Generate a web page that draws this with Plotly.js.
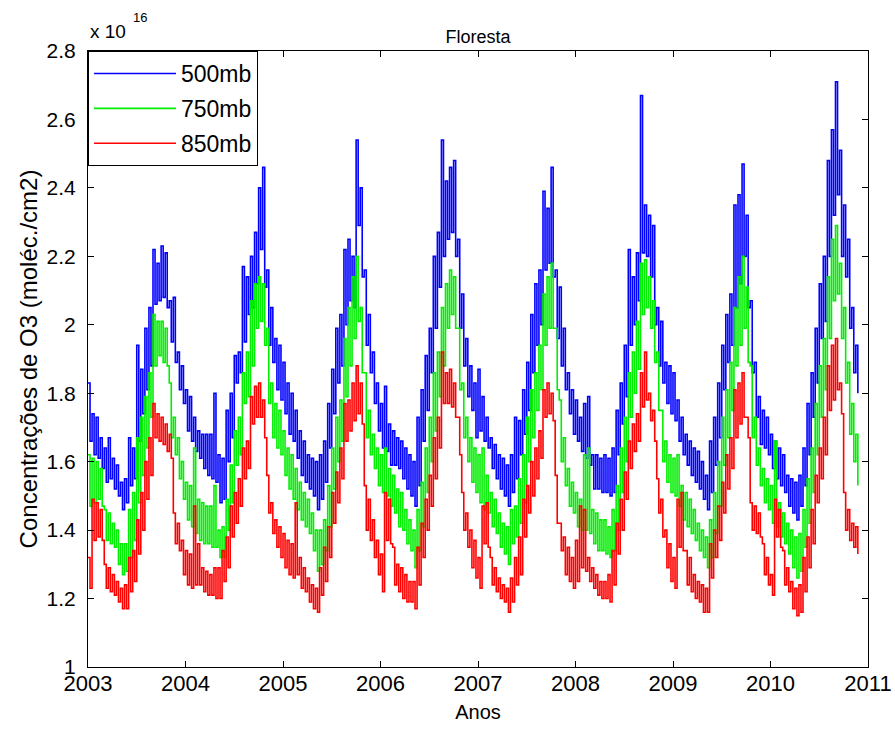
<!DOCTYPE html>
<html>
<head>
<meta charset="utf-8">
<script src="https://cdn.plot.ly/plotly-3.0.1.min.js"></script>
<style>html,body{margin:0;padding:0;background:#fff;}#chart{width:895px;height:731px;}</style>
</head>
<body>
<div id="chart"></div>
<script>
// Values in units of 10^16 molec/cm2, sampled every 1/24 year from 2003.0
// Each series given as upper (hi) and lower (lo) edge of its noisy band, read from the picture.
const startYear = 2003;
const samplesPerYear = 24;

const blueHi = [1.83,1.74,1.73,1.67,1.64,1.67,1.61,1.59,1.54,1.55,1.67,1.64,1.94,1.87,1.99,2.05,2.22,2.18,2.23,2.21,2.07,2.08,1.92,1.88,1.81,1.79,1.73,1.69,1.68,1.68,1.68,1.80,
1.62,1.61,1.75,1.80,1.91,1.92,2.17,2.14,2.20,2.27,2.40,2.46,2.16,2.05,1.96,1.94,1.89,1.83,1.80,1.75,1.69,1.66,1.62,1.61,1.60,1.62,1.66,1.77,1.87,1.99,2.03,2.22,
2.25,2.20,2.54,2.40,2.16,2.03,1.92,1.83,1.77,1.82,1.71,1.69,1.67,1.66,1.64,1.62,1.60,1.73,1.81,1.91,1.99,2.20,2.27,2.54,2.42,2.46,2.48,2.25,2.09,1.96,1.88,1.83,
1.87,1.79,1.73,1.67,1.65,1.62,1.61,1.59,1.62,1.73,1.72,1.81,1.89,2.03,2.12,2.16,2.39,2.34,2.46,2.16,2.11,1.99,1.86,1.81,1.78,1.73,1.77,1.79,1.62,1.62,1.61,1.62,
1.61,1.64,1.75,1.83,1.94,2.22,2.14,2.21,2.67,2.35,2.32,2.29,2.05,2.01,1.89,1.88,1.86,1.78,1.73,1.68,1.66,1.64,1.63,1.60,1.56,1.66,1.73,1.83,1.94,2.03,2.09,2.35,
2.38,2.47,2.32,2.07,1.89,1.79,1.75,1.73,1.68,1.66,1.64,1.62,1.56,1.55,1.54,1.56,1.64,1.77,1.86,1.99,2.12,2.20,2.48,2.57,2.71,2.51,2.35,2.25,2.05,1.94];
const blueLo = [1.66,1.62,1.61,1.58,1.54,1.55,1.52,1.50,1.46,1.48,1.53,1.55,1.66,1.74,1.81,1.88,2.06,2.07,2.08,2.05,1.95,1.89,1.81,1.77,1.69,1.66,1.63,1.61,1.58,1.56,1.55,1.54,
1.48,1.49,1.60,1.67,1.83,1.86,1.95,2.03,2.05,2.12,2.22,2.11,1.94,1.89,1.81,1.78,1.74,1.68,1.66,1.61,1.56,1.54,1.52,1.50,1.46,1.49,1.54,1.64,1.74,1.83,1.88,2.00,
2.07,2.05,2.29,2.14,1.94,1.86,1.77,1.69,1.64,1.63,1.59,1.59,1.58,1.55,1.52,1.50,1.47,1.53,1.66,1.75,1.86,1.99,2.11,2.20,2.25,2.27,2.20,1.99,1.88,1.79,1.75,1.67,
1.69,1.66,1.64,1.58,1.55,1.52,1.50,1.47,1.51,1.55,1.62,1.68,1.75,1.86,1.94,2.00,2.16,2.18,2.14,1.96,1.88,1.81,1.74,1.68,1.66,1.63,1.61,1.59,1.52,1.52,1.51,1.51,
1.50,1.51,1.62,1.71,1.79,1.94,2.00,2.07,2.21,2.20,2.14,2.00,1.88,1.83,1.77,1.74,1.72,1.66,1.62,1.59,1.56,1.54,1.52,1.49,1.46,1.51,1.59,1.67,1.81,1.89,1.94,2.05,
2.12,2.20,2.05,1.86,1.73,1.65,1.64,1.62,1.58,1.55,1.53,1.51,1.47,1.45,1.43,1.47,1.53,1.62,1.73,1.83,1.96,2.01,2.20,2.32,2.38,2.20,2.14,1.99,1.86,1.80];

const greenHi = [1.62,1.61,1.60,1.58,1.46,1.45,1.42,1.40,1.36,1.36,1.46,1.51,1.67,1.73,1.79,1.86,2.03,2.01,2.01,1.99,1.83,1.73,1.67,1.60,1.54,1.53,1.64,1.49,1.48,1.47,1.47,1.53,
1.40,1.41,1.49,1.59,1.69,1.73,1.86,1.92,2.07,2.12,2.14,2.12,1.99,1.83,1.77,1.75,1.69,1.64,1.62,1.58,1.54,1.51,1.49,1.45,1.40,1.40,1.43,1.53,1.64,1.73,1.78,1.96,
2.05,2.14,2.20,2.05,1.86,1.75,1.68,1.64,1.62,1.64,1.58,1.56,1.52,1.51,1.46,1.43,1.40,1.46,1.54,1.64,1.73,1.86,1.92,2.05,2.12,2.16,2.14,1.99,1.83,1.73,1.67,1.64,
1.62,1.64,1.56,1.51,1.49,1.45,1.42,1.41,1.46,1.47,1.55,1.62,1.73,1.81,1.86,1.94,2.09,2.14,2.18,1.99,1.78,1.67,1.58,1.54,1.51,1.49,1.62,1.64,1.46,1.45,1.43,1.43,
1.41,1.46,1.53,1.64,1.73,1.86,1.92,2.01,2.18,2.19,2.14,2.07,1.92,1.75,1.66,1.62,1.61,1.62,1.53,1.51,1.49,1.46,1.42,1.40,1.38,1.43,1.51,1.60,1.73,1.81,1.89,2.05,
2.14,2.20,2.11,1.88,1.73,1.64,1.58,1.55,1.53,1.66,1.48,1.45,1.42,1.40,1.38,1.39,1.46,1.55,1.64,1.77,1.88,1.96,2.14,2.25,2.29,2.18,2.05,1.89,1.77,1.68];
const greenLo = [1.47,1.48,1.49,1.47,1.37,1.36,1.35,1.30,1.27,1.28,1.32,1.37,1.48,1.56,1.64,1.73,1.88,1.91,1.89,1.88,1.67,1.62,1.55,1.49,1.43,1.41,1.39,1.37,1.36,1.36,1.35,1.35,
1.32,1.32,1.40,1.48,1.59,1.62,1.77,1.79,1.88,1.99,2.01,1.94,1.77,1.67,1.64,1.62,1.56,1.52,1.49,1.46,1.43,1.41,1.39,1.34,1.28,1.30,1.34,1.41,1.52,1.60,1.66,1.79,
1.88,1.96,2.01,1.86,1.67,1.62,1.58,1.53,1.51,1.50,1.47,1.45,1.41,1.40,1.36,1.34,1.29,1.34,1.41,1.51,1.60,1.69,1.79,1.88,1.99,2.03,1.99,1.81,1.67,1.60,1.54,1.51,
1.48,1.46,1.45,1.41,1.39,1.35,1.33,1.30,1.36,1.38,1.42,1.48,1.60,1.67,1.75,1.81,1.94,1.99,1.99,1.81,1.60,1.53,1.47,1.45,1.41,1.40,1.40,1.39,1.36,1.34,1.34,1.33,
1.32,1.34,1.40,1.51,1.60,1.73,1.80,1.87,2.03,2.05,1.99,1.89,1.75,1.60,1.54,1.51,1.50,1.47,1.43,1.41,1.39,1.37,1.34,1.32,1.29,1.32,1.39,1.47,1.59,1.67,1.75,1.88,
1.94,1.99,1.89,1.67,1.59,1.53,1.48,1.46,1.42,1.41,1.38,1.36,1.33,1.29,1.26,1.28,1.35,1.42,1.51,1.62,1.73,1.81,1.96,2.07,2.09,1.96,1.83,1.68,1.60,1.53];

const redHi = [1.32,1.49,1.48,1.46,1.30,1.29,1.27,1.25,1.23,1.24,1.32,1.34,1.43,1.51,1.60,1.67,1.77,1.74,1.73,1.71,1.68,1.45,1.42,1.37,1.34,1.33,1.47,1.36,1.29,1.28,1.27,1.29,
1.29,1.34,1.38,1.47,1.51,1.55,1.64,1.66,1.79,1.82,1.83,1.78,1.56,1.48,1.43,1.41,1.39,1.37,1.36,1.48,1.32,1.29,1.26,1.24,1.23,1.29,1.35,1.41,1.51,1.57,1.64,1.77,
1.78,1.83,1.88,1.83,1.53,1.49,1.43,1.37,1.33,1.51,1.49,1.35,1.30,1.29,1.27,1.25,1.25,1.35,1.42,1.49,1.56,1.67,1.73,1.92,1.86,1.87,1.83,1.73,1.51,1.45,1.40,1.37,
1.32,1.47,1.48,1.32,1.29,1.26,1.24,1.23,1.26,1.32,1.38,1.49,1.53,1.60,1.64,1.69,1.81,1.83,1.80,1.56,1.42,1.38,1.35,1.32,1.37,1.47,1.46,1.32,1.29,1.27,1.25,1.25,
1.27,1.34,1.42,1.49,1.57,1.66,1.71,1.74,1.86,1.92,1.80,1.75,1.55,1.49,1.40,1.36,1.32,1.49,1.51,1.34,1.32,1.27,1.25,1.24,1.23,1.36,1.40,1.47,1.54,1.62,1.67,1.81,
1.83,1.86,1.73,1.48,1.47,1.45,1.36,1.32,1.27,1.49,1.46,1.34,1.29,1.25,1.23,1.24,1.32,1.38,1.46,1.56,1.64,1.73,1.88,1.94,1.96,1.83,1.51,1.46,1.42,1.41];
const redLo = [1.23,1.37,1.38,1.37,1.23,1.22,1.21,1.19,1.17,1.17,1.22,1.25,1.33,1.40,1.49,1.56,1.67,1.66,1.65,1.63,1.61,1.36,1.34,1.27,1.24,1.23,1.24,1.24,1.22,1.21,1.21,1.20,
1.20,1.25,1.29,1.38,1.42,1.47,1.55,1.58,1.71,1.73,1.73,1.67,1.45,1.39,1.35,1.32,1.29,1.27,1.26,1.27,1.23,1.22,1.19,1.17,1.16,1.21,1.25,1.32,1.42,1.48,1.55,1.66,
1.69,1.72,1.74,1.71,1.40,1.37,1.32,1.27,1.22,1.37,1.36,1.24,1.22,1.20,1.19,1.19,1.17,1.24,1.32,1.40,1.47,1.55,1.64,1.77,1.77,1.76,1.73,1.62,1.40,1.35,1.29,1.26,
1.23,1.36,1.35,1.24,1.22,1.20,1.19,1.16,1.19,1.24,1.27,1.38,1.45,1.50,1.55,1.61,1.73,1.74,1.72,1.42,1.34,1.27,1.25,1.23,1.25,1.29,1.28,1.25,1.23,1.21,1.20,1.20,
1.19,1.24,1.33,1.40,1.49,1.58,1.63,1.66,1.76,1.78,1.72,1.66,1.45,1.38,1.29,1.25,1.23,1.35,1.34,1.24,1.22,1.20,1.19,1.16,1.16,1.26,1.32,1.37,1.45,1.52,1.58,1.67,
1.71,1.73,1.67,1.40,1.39,1.38,1.27,1.24,1.21,1.38,1.35,1.24,1.22,1.17,1.15,1.16,1.22,1.29,1.36,1.48,1.55,1.62,1.75,1.78,1.81,1.74,1.40,1.37,1.35,1.33];

const seriesNames = ['500mb', '750mb', '850mb'];
const seriesColors = ['#0000ff', '#00ee00', '#ff0000'];
const xTickVals = [2003, 2004, 2005, 2006, 2007, 2008, 2009, 2010, 2011];
const yTickVals = [1, 1.2, 1.4, 1.6, 1.8, 2, 2.2, 2.4, 2.6, 2.8];
const yTickText = ['1', '1.2', '1.4', '1.6', '1.8', '2', '2.2', '2.4', '2.6', '2.8'];

function band(hi, lo) {
  const n = Math.min(hi.length, lo.length);
  const x = [], y = [];
  for (let i = 0; i < n; i++) {
    x.push(startYear + i / samplesPerYear); y.push(hi[i]);
    x.push(startYear + (i + 0.5) / samplesPerYear); y.push(lo[i]);
  }
  return {x, y};
}

const pairs = [[blueHi, blueLo], [greenHi, greenLo], [redHi, redLo]];
const traces = pairs.map((p, k) => {
  const b = band(p[0], p[1]);
  return {
    type: 'scatter', mode: 'lines', x: b.x, y: b.y, name: seriesNames[k],
    legendgroup: 'g' + k,
    line: {color: seriesColors[k], width: 1.6, shape: 'hv'}
  };
});

const F = 'Liberation Sans, Arial, Helvetica, sans-serif';
const layout = {
  width: 895, height: 731,
  margin: {l: 88, r: 27, t: 51, b: 64, pad: 0},
  paper_bgcolor: '#fff', plot_bgcolor: '#fff',
  showlegend: true,
  font: {family: F, size: 20, color: '#000'},
  title: {text: 'Floresta', font: {family: F, size: 18, color: '#000'},
          xref: 'paper', x: 0.5, xanchor: 'center', yref: 'container', y: 1 - 37 / 731, yanchor: 'middle'},
  xaxis: {
    range: [2003, 2011], tickmode: 'array', tickvals: xTickVals, ticktext: xTickVals.map(String),
    ticks: 'inside', ticklen: 6, tickwidth: 1, tickcolor: '#000',
    showline: true, linecolor: '#000', linewidth: 1, mirror: 'ticks',
    showgrid: false, zeroline: false, ticklabelstandoff: -3,
    tickfont: {family: F, size: 22, color: '#000'},
    title: {text: 'Anos', font: {family: F, size: 20, color: '#000'}, standoff: 9}
  },
  yaxis: {
    range: [1, 2.8], tickmode: 'array', tickvals: yTickVals, ticktext: yTickText,
    ticks: 'inside', ticklen: 6, tickwidth: 1, tickcolor: '#000',
    showline: true, linecolor: '#000', linewidth: 1, mirror: 'ticks',
    showgrid: false, zeroline: false, ticklabelstandoff: 7,
    tickfont: {family: F, size: 21, color: '#000'},
    title: {text: 'Concentrações de O3 (moléc./cm2)', font: {family: F, size: 24, color: '#000'}, standoff: 2}
  },
  legend: {
    x: 0, y: 1, xanchor: 'left', yanchor: 'top', xref: 'paper', yref: 'paper',
    bgcolor: '#fff', bordercolor: '#000', borderwidth: 1,
    font: {family: F, size: 23, color: '#000'}, itemwidth: 82, tracegroupgap: 2
  },
  annotations: [
    {xref: 'paper', yref: 'paper', x: 0, y: 1, xanchor: 'left', yanchor: 'bottom', xshift: 0, yshift: 7,
     text: 'x 10', showarrow: false, font: {family: F, size: 19, color: '#000'}},
    {xref: 'paper', yref: 'paper', x: 0, y: 1, xanchor: 'left', yanchor: 'bottom', xshift: 43, yshift: 24,
     text: '16', showarrow: false, font: {family: F, size: 13, color: '#000'}}
  ]
};

Plotly.newPlot('chart', traces, layout, {displayModeBar: false, staticPlot: true});
</script>
</body>
</html>
